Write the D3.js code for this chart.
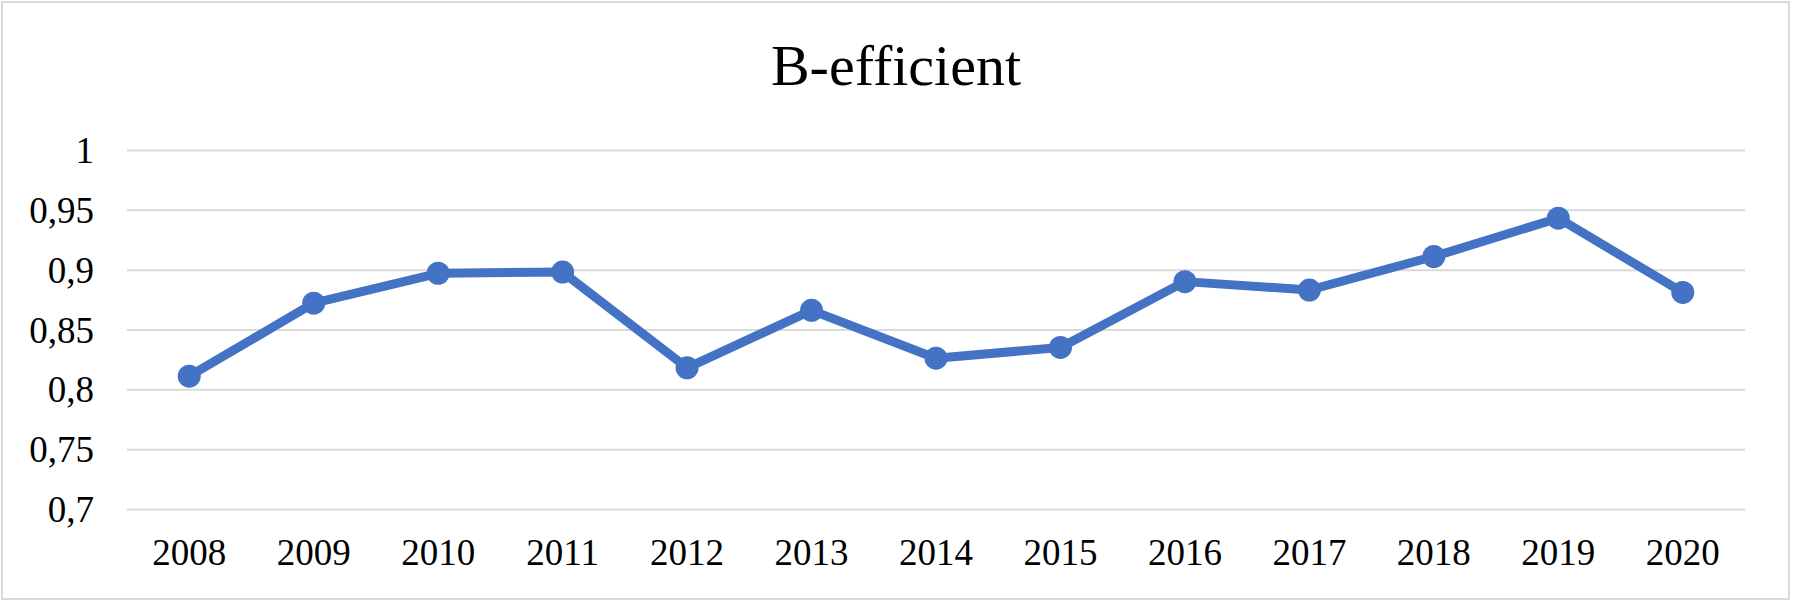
<!DOCTYPE html>
<html>
<head>
<meta charset="utf-8">
<script src="https://cdn.jsdelivr.net/npm/d3@7"></script>
<style>
  html, body { margin: 0; padding: 0; background: #fff; }
  svg { display: block; }
</style>
</head>
<body>
<svg id="chart" width="1793" height="602"></svg>
<script>
const title = "B-efficient";
const years = ["2008","2009","2010","2011","2012","2013","2014","2015","2016","2017","2018","2019","2020"];
const values = [0.811, 0.872, 0.897, 0.898, 0.818, 0.866, 0.826, 0.835, 0.890, 0.883, 0.911, 0.943, 0.881];
const yTicks = [0.7, 0.75, 0.8, 0.85, 0.9, 0.95, 1];
const yTickLabels = ["0,7", "0,75", "0,8", "0,85", "0,9", "0,95", "1"];

const W = 1793, H = 602;
const svg = d3.select("#chart");
const font = "'Liberation Serif', 'Times New Roman', serif";

// border
svg.append("rect")
  .attr("x", 2).attr("y", 2)
  .attr("width", W - 6).attr("height", H - 5)
  .attr("fill", "#fff")
  .attr("stroke", "#d9d9d9")
  .attr("stroke-width", 2);

const plot = { left: 127, right: 1745, top: 150, bottom: 509 };

const x = d3.scaleBand().domain(years).range([plot.left, plot.right]).padding(0);
const y = d3.scaleLinear().domain([0.7, 1]).range([plot.bottom, plot.top]);

// title
svg.append("text")
  .attr("x", 896).attr("y", 85)
  .attr("text-anchor", "middle")
  .attr("font-family", font)
  .attr("font-size", 58)
  .attr("fill", "#000")
  .text(title);

// gridlines + y labels
const yAxis = d3.axisLeft(y)
  .tickValues(yTicks)
  .tickSize(-(plot.right - plot.left))
  .tickPadding(33)
  .tickFormat((d, i) => yTickLabels[i]);

const gy = svg.append("g")
  .attr("transform", `translate(${plot.left},0)`)
  .call(yAxis);
gy.select(".domain").remove();
gy.selectAll(".tick line").attr("stroke", "#d9d9d9").attr("stroke-width", 2);
gy.selectAll(".tick text")
  .attr("font-family", font)
  .attr("font-size", 37)
  .attr("fill", "#000")
  .attr("dy", "0.34em");

// x axis labels
const xAxis = d3.axisBottom(x).tickSize(0).tickPadding(0);
const gx = svg.append("g")
  .attr("transform", `translate(0,${plot.bottom})`)
  .call(xAxis);
gx.select(".domain").remove();
gx.selectAll(".tick text")
  .attr("font-family", font)
  .attr("font-size", 37)
  .attr("fill", "#000")
  .attr("dy", null)
  .attr("y", 56);

// line
const cx = d => x(d) + x.bandwidth() / 2;
const line = d3.line()
  .x((d, i) => cx(years[i]))
  .y(d => y(d));

svg.append("path")
  .datum(values)
  .attr("d", line)
  .attr("fill", "none")
  .attr("stroke", "#4472C4")
  .attr("stroke-width", 9)
  .attr("stroke-linejoin", "round")
  .attr("stroke-linecap", "round");

svg.append("g").selectAll("circle")
  .data(values)
  .join("circle")
  .attr("cx", (d, i) => cx(years[i]))
  .attr("cy", d => y(d))
  .attr("r", 11.5)
  .attr("fill", "#4472C4");
</script>
</body>
</html>
